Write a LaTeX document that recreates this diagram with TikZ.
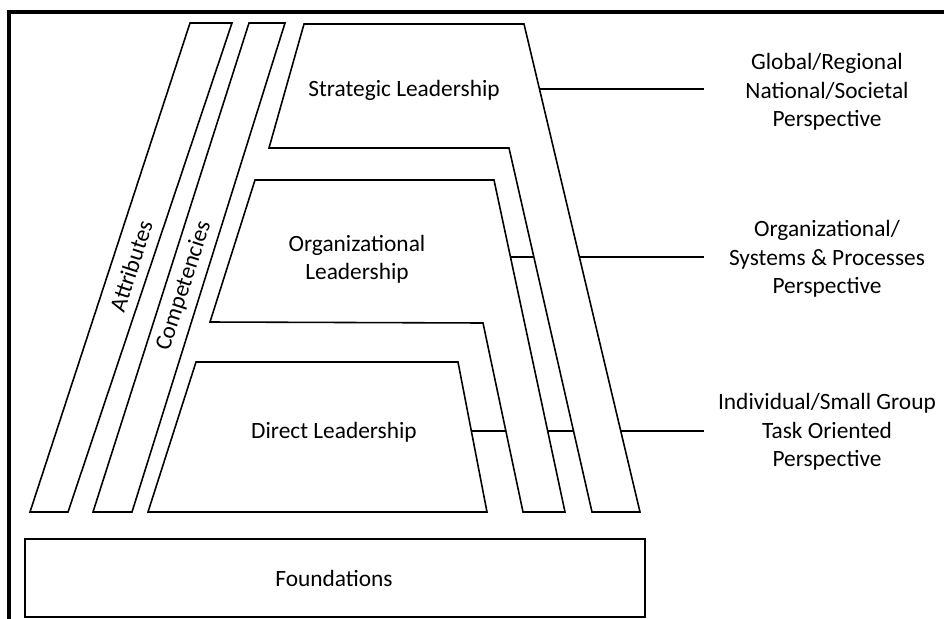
\documentclass[tikz,border=0pt]{standalone}
\usepackage{fontspec}
\setmainfont{Carlito}

\begin{document}
\begin{tikzpicture}[x=0.02cm,y=-0.02cm,
  block/.style={draw,fill=white,line width=0.9pt,line join=miter},
  link/.style={line width=1.1pt},
  lbl/.style={font=\fontsize{13.3}{16.2}\selectfont,align=center,inner sep=0pt}]
\useasboundingbox (0,0) rectangle (944,619);
\draw[line width=1.8pt] (9,619) -- (9,12) -- (944,12);
% connectors first, the blocks cover them
\coordinate (stratR) at (539,89);
\coordinate (orgR) at (510,257);
\coordinate (dirR) at (471,431);
\coordinate (globE) at (704,89);
\coordinate (sysE) at (704,257);
\coordinate (indE) at (704,431);
\draw[link] (stratR) -- (globE);
\draw[link] (orgR) -- (sysE);
\draw[link] (dirR) -- (indE);
% blocks
\draw[block] (190,23) -- (232,23) -- (68,512) -- (30,512) -- cycle;
\draw[block] (249,23) -- (285,23) -- (132,512) -- (93,512) -- cycle;
\draw[block] (304,24) -- (524,24) -- (640,512) -- (592,512) -- (509,148) -- (269,148) -- cycle;
\draw[block] (255,180) -- (494,180) -- (565,512) -- (523,512) -- (483,323) -- (210,322) -- cycle;
\draw[block] (196,362) -- (458,362) -- (487,512) -- (148,512) -- cycle;
\draw[block] (25,539) rectangle (645,617);
% texts
\node[lbl,rotate=72] (attr) at (131,266) {Attributes};
\node[lbl,rotate=72] (comp) at (184,286) {Competencies};
\node[lbl] (strat) at (404,90) {Strategic Leadership};
\node[lbl] (org) at (357,259) {Organizational\\Leadership};
\node[lbl] (dir) at (334,432) {Direct Leadership};
\node[lbl] (found) at (334,578) {Foundations};
\node[lbl] (glob) at (827,92) {Global/Regional\\National/Societal\\Perspective};
\node[lbl] (sys) at (827,259) {Organizational/\\Systems \& Processes\\Perspective};
\node[lbl] (ind) at (827,432) {Individual/Small Group\\Task Oriented\\Perspective};
\end{tikzpicture}
\end{document}
